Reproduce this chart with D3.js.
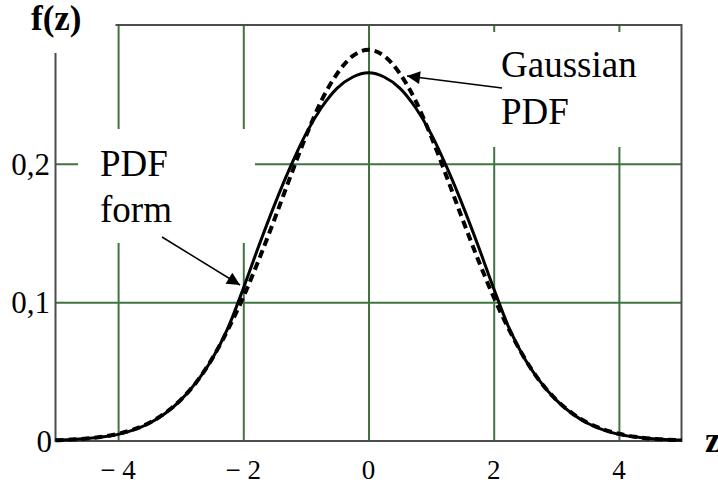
<!DOCTYPE html>
<html>
<head>
<meta charset="utf-8">
<script src="https://cdn.jsdelivr.net/npm/d3@7"></script>
<style>
    body { margin: 0; background: #ffffff; }
    text { font-family: "Liberation Serif", "DejaVu Serif", serif; fill: #000000; }
</style>
</head>
<body>
<script>
// values, z from -5 to 5 in steps of 0.25
var zValues = [-5, -4.75, -4.5, -4.25, -4, -3.75, -3.5, -3.25, -3, -2.75, -2.5, -2.25, -2, -1.75, -1.5, -1.25, -1, -0.75, -0.5, -0.25,
    0, 0.25, 0.5, 0.75, 1, 1.25, 1.5, 1.75, 2, 2.25, 2.5, 2.75, 3, 3.25, 3.5, 3.75, 4, 4.25, 4.5, 4.75, 5];
var pdfForm = [0.0007, 0.0011, 0.0018, 0.0030, 0.0048, 0.0080, 0.0128, 0.0198, 0.0295, 0.0425, 0.0590, 0.0810, 0.1100, 0.1410, 0.1705, 0.1975, 0.2215, 0.2405, 0.2545, 0.2625,
    0.2655, 0.2625, 0.2545, 0.2405, 0.2215, 0.1975, 0.1705, 0.1410, 0.1100, 0.0810, 0.0590, 0.0425, 0.0295, 0.0198, 0.0128, 0.0080, 0.0048, 0.0030, 0.0018, 0.0011, 0.0007];
var gaussPdf = [0.0005, 0.0010, 0.0018, 0.0031, 0.0052, 0.0084, 0.0131, 0.0201, 0.0297, 0.0424, 0.0592, 0.0799, 0.1038, 0.1309, 0.1601, 0.1904, 0.2197, 0.2456, 0.2650, 0.2777,
    0.2821, 0.2777, 0.2650, 0.2456, 0.2197, 0.1904, 0.1601, 0.1309, 0.1038, 0.0799, 0.0592, 0.0424, 0.0297, 0.0201, 0.0131, 0.0084, 0.0052, 0.0031, 0.0018, 0.0010, 0.0005];
var xTicks = [-4, -2, 0, 2, 4];
var xTickLabels = ["\u2212 4", "\u2212 2", "0", "2", "4"];
var yTicks = [0, 0.1, 0.2];
var yTickLabels = ["0", "0,1", "0,2"];

(function () {

    var w = 718;
    var h = 486;
    var pLeft = 55.5, pRight = 681.5, pTop = 25, pBottom = 441;
    var gridColor = "#3f7440";

    var svg = d3.select("body").append("svg")
        .attr("width", w)
        .attr("height", h);

    var x = d3.scaleLinear().domain([-5, 5]).range([pLeft, pRight]);
    var y = d3.scaleLinear().domain([0, 0.3]).range([pBottom, pTop]);

    // grid
    svg.append("g")
        .attr("transform", "translate(0," + pBottom + ")")
        .call(d3.axisBottom(x).tickValues(xTicks).tickSize(-(pBottom - pTop)).tickFormat(""));
    svg.append("g")
        .attr("transform", "translate(" + pLeft + ",0)")
        .call(d3.axisLeft(y).tickValues(yTicks.slice(1)).tickSize(-(pRight - pLeft)).tickFormat(""));
    svg.selectAll(".domain").remove();
    svg.selectAll(".tick line")
        .attr("stroke", gridColor)
        .attr("stroke-width", 2);

    // frame
    svg.append("rect")
        .attr("x", pLeft).attr("y", pTop)
        .attr("width", pRight - pLeft).attr("height", pBottom - pTop)
        .attr("fill", "none")
        .attr("stroke", "#4d4d4d")
        .attr("stroke-width", 2);

    // white label backgrounds that cut the grid
    var boxes = [
        { x0: 0, y0: 0, x1: 115.5, y1: 53 },
        { x0: 78, y0: 129, x1: 255, y1: 243 },
        { x0: 485, y0: 32, x1: 660, y1: 147 }
    ];
    svg.selectAll("rect.box")
        .data(boxes)
        .enter()
        .append("rect")
        .attr("class", "box")
        .attr("x", function (d) { return d.x0; })
        .attr("y", function (d) { return d.y0; })
        .attr("width", function (d) { return d.x1 - d.x0; })
        .attr("height", function (d) { return d.y1 - d.y0; })
        .attr("fill", "#ffffff");

    // curves
    function lineFor(vals) {
        return d3.line()
            .x(function (d, i) { return x(zValues[i]); })
            .y(function (d) { return y(d); })
            .curve(d3.curveMonotoneX)(vals);
    }

    svg.append("path")
        .attr("d", lineFor(gaussPdf))
        .attr("fill", "none")
        .attr("stroke", "#000000")
        .attr("stroke-width", 4)
        .attr("stroke-dasharray", "8,5");

    svg.append("path")
        .attr("d", lineFor(pdfForm))
        .attr("fill", "none")
        .attr("stroke", "#000000")
        .attr("stroke-width", 3);

    // tick labels
    svg.selectAll("text.xl")
        .data(xTicks)
        .enter()
        .append("text")
        .attr("class", "xl")
        .attr("x", function (d) { return x(d); })
        .attr("y", 479)
        .attr("text-anchor", "middle")
        .attr("font-size", 27)
        .text(function (d, i) { return xTickLabels[i]; });

    svg.selectAll("text.yl")
        .data(yTicks)
        .enter()
        .append("text")
        .attr("class", "yl")
        .attr("x", function (d) { return d === 0 ? 52 : 50; })
        .attr("y", function (d) { return y(d) + 11; })
        .attr("text-anchor", "end")
        .attr("font-size", 31)
        .text(function (d, i) { return yTickLabels[i]; });

    // axis names
    svg.append("text")
        .attr("x", 31).attr("y", 30)
        .attr("font-size", 35)
        .attr("font-weight", "bold")
        .text("f(z)");
    svg.append("text")
        .attr("x", 705).attr("y", 452)
        .attr("font-size", 35)
        .attr("font-weight", "bold")
        .text("z");

    // annotations
    svg.append("text").attr("x", 100).attr("y", 176).attr("font-size", 37).text("PDF");
    svg.append("text").attr("x", 100).attr("y", 222).attr("font-size", 37).text("form");
    svg.append("text").attr("x", 501).attr("y", 77).attr("font-size", 37).text("Gaussian");
    svg.append("text").attr("x", 501).attr("y", 124).attr("font-size", 37).text("PDF");

    svg.append("defs").append("marker")
        .attr("id", "head")
        .attr("viewBox", "0 0 10 10")
        .attr("refX", 10).attr("refY", 5)
        .attr("markerWidth", 18).attr("markerHeight", 13)
        .attr("markerUnits", "userSpaceOnUse")
        .attr("orient", "auto")
        .append("path")
        .attr("d", "M0,0L10,5L0,10Z")
        .attr("fill", "#000000");

    var arrows = [
        { x1: 162, y1: 237, x2: 240, y2: 285 },
        { x1: 502, y1: 88, x2: 407, y2: 76 }
    ];
    svg.selectAll("line.arrow")
        .data(arrows)
        .enter()
        .append("line")
        .attr("class", "arrow")
        .attr("x1", function (d) { return d.x1; })
        .attr("y1", function (d) { return d.y1; })
        .attr("x2", function (d) { return d.x2; })
        .attr("y2", function (d) { return d.y2; })
        .attr("stroke", "#000000")
        .attr("stroke-width", 1.5)
        .attr("marker-end", "url(#head)");
})();
</script>
</body>
</html>
